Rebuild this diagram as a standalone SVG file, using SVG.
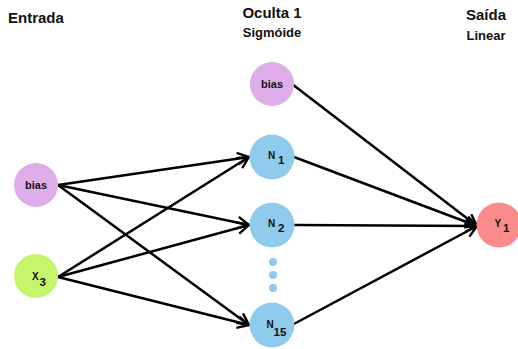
<svg xmlns="http://www.w3.org/2000/svg" width="518" height="349" viewBox="0 0 518 349">
  <style>
    .title { font-family: "Liberation Sans", Arial, sans-serif; font-weight: bold; font-size: 15px; fill: #111; }
    .sub { font-family: "Liberation Sans", Arial, sans-serif; font-weight: bold; font-size: 13px; fill: #111; }
    .lbl { font-family: "Liberation Sans", Arial, sans-serif; font-weight: bold; font-size: 11px; fill: #111; }
    .sym { font-family: "Liberation Sans", Arial, sans-serif; font-weight: bold; font-size: 10px; fill: #111; }
    .idx { font-family: "Liberation Sans", Arial, sans-serif; font-weight: bold; font-size: 11.5px; fill: #111; }
    .edge { stroke: #000; stroke-width: 2.5; fill: none; marker-end: url(#head); }
    .bias { fill: #dfaeea; }
    .inp { fill: #c6f46c; }
    .hid { fill: #8ecbec; }
    .out { fill: #f98b8b; }
  </style>
  <defs>
    <marker id="head" viewBox="0 0 12 12" refX="11" refY="6" markerWidth="14" markerHeight="14" markerUnits="userSpaceOnUse" orient="auto">
      <path d="M1,1 L11,6 L1,11" fill="none" stroke="#000" stroke-width="2"/>
    </marker>
  </defs>
  <rect width="518" height="349" fill="#fff"/>

  <!-- layer headings -->
  <text class="title" x="8" y="23">Entrada</text>
  <text class="title" x="272" y="18" text-anchor="middle">Oculta 1</text>
  <text class="sub" x="272" y="37" text-anchor="middle">Sigmóide</text>
  <text class="title" x="486" y="20" text-anchor="middle">Saída</text>
  <text class="sub" x="486" y="40" text-anchor="middle">Linear</text>

  <!-- connectors -->
  <g id="connectors">
    <line class="edge" x1="58" y1="185" x2="249" y2="157"/>
    <line class="edge" x1="58" y1="185" x2="249" y2="225"/>
    <line class="edge" x1="58" y1="185" x2="249" y2="325"/>
    <line class="edge" x1="58" y1="277" x2="249" y2="157"/>
    <line class="edge" x1="58" y1="277" x2="249" y2="225"/>
    <line class="edge" x1="58" y1="277" x2="249" y2="325"/>
    <line class="edge" x1="292" y1="84" x2="477" y2="226"/>
    <line class="edge" x1="294" y1="157" x2="477" y2="226"/>
    <line class="edge" x1="294" y1="225" x2="477" y2="226"/>
    <line class="edge" x1="292" y1="325" x2="477" y2="226"/>
  </g>

  <!-- input layer -->
  <g id="in_bias">
    <circle class="bias" cx="36" cy="185" r="22"/>
    <text class="lbl" x="36" y="189" text-anchor="middle">bias</text>
  </g>
  <g id="in_x3">
    <circle class="inp" cx="36" cy="276" r="22"/>
    <text class="sym" x="32" y="280">X</text>
    <text class="idx" x="39.5" y="286">3</text>
  </g>

  <!-- hidden layer -->
  <g id="h_bias">
    <circle class="bias" cx="272" cy="84" r="22"/>
    <text class="lbl" x="272" y="88" text-anchor="middle">bias</text>
  </g>
  <g id="h_n1">
    <circle class="hid" cx="272" cy="157" r="22.5"/>
    <text class="sym" x="268" y="159">N</text>
    <text class="idx" x="278" y="164">1</text>
  </g>
  <g id="h_n2">
    <circle class="hid" cx="272" cy="225" r="22.5"/>
    <text class="sym" x="268" y="227">N</text>
    <text class="idx" x="278" y="232">2</text>
  </g>
  <g id="h_dots">
    <circle class="hid" cx="273" cy="262" r="4"/>
    <circle class="hid" cx="273" cy="275" r="4"/>
    <circle class="hid" cx="273" cy="288" r="4"/>
  </g>
  <g id="h_n15">
    <circle class="hid" cx="272" cy="325" r="22.5"/>
    <text class="sym" x="266.5" y="328">N</text>
    <text class="idx" x="273.5" y="336">15</text>
  </g>

  <!-- output layer -->
  <g id="out_y1">
    <circle class="out" cx="499" cy="225" r="22.5"/>
    <text class="sym" x="494.5" y="227">Y</text>
    <text class="idx" x="503" y="232">1</text>
  </g>
</svg>
